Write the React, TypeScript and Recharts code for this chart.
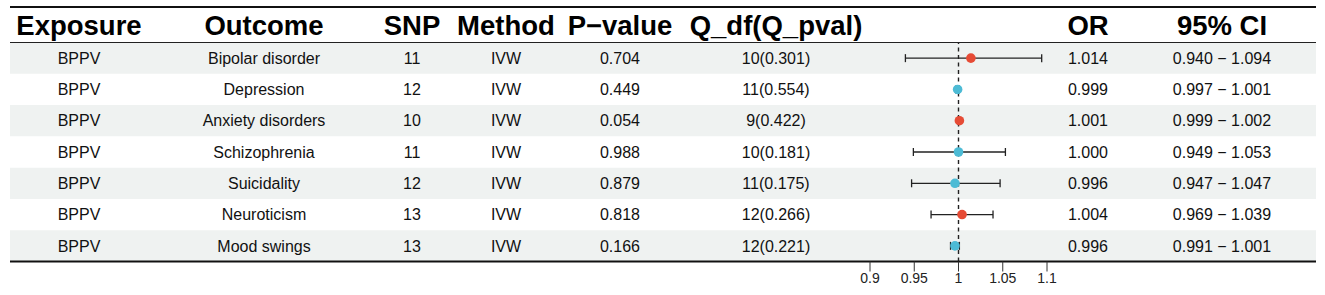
import React from "react";
import {
  ComposedChart,
  Scatter,
  XAxis,
  YAxis,
  ErrorBar,
  ReferenceLine,
  ReferenceArea,
} from "recharts";

const headers = ["Exposure", "Outcome", "SNP", "Method", "P\u2212value", "Q_df(Q_pval)", "OR", "95% CI"];
const exposures = ["BPPV", "BPPV", "BPPV", "BPPV", "BPPV", "BPPV", "BPPV"];
const outcomes = [
  "Bipolar disorder",
  "Depression",
  "Anxiety disorders",
  "Schizophrenia",
  "Suicidality",
  "Neuroticism",
  "Mood swings",
];
const snps = [11, 12, 10, 11, 12, 13, 13];
const methods = ["IVW", "IVW", "IVW", "IVW", "IVW", "IVW", "IVW"];
const pValues = ["0.704", "0.449", "0.054", "0.988", "0.879", "0.818", "0.166"];
const qStats = ["10(0.301)", "11(0.554)", "9(0.422)", "10(0.181)", "11(0.175)", "12(0.266)", "12(0.221)"];
const orValues = [1.014, 0.999, 1.001, 1.0, 0.996, 1.004, 0.996];
const ciLow = [0.94, 0.997, 0.999, 0.949, 0.947, 0.969, 0.991];
const ciHigh = [1.094, 1.001, 1.002, 1.053, 1.047, 1.039, 1.001];
const riskUp = [true, false, true, false, false, true, false];
const xTicks = [0.9, 0.95, 1, 1.05, 1.1];

const RED = "#E64B35";
const BLUE = "#4DBBD5";
const SHADE = "#EFF2F1";
const FONT = "'Liberation Sans', Arial, Helvetica, sans-serif";

// column centre positions (layout)
const colX = [79, 264, 412, 506, 620, 776, 1088, 1222];

const rows = outcomes.map((o, i) => ({
  row: i + 1,
  or: orValues[i],
  ci: [orValues[i] - ciLow[i], ciHigh[i] - orValues[i]],
  up: riskUp[i],
}));

const rowCells = (i: number) => [
  exposures[i],
  outcomes[i],
  String(snps[i]),
  methods[i],
  pValues[i],
  qStats[i],
  orValues[i].toFixed(3),
  `${ciLow[i].toFixed(3)} \u2212 ${ciHigh[i].toFixed(3)}`,
];

const RowTick = (props: any) => {
  const { y, payload } = props;
  const i = payload.value - 1;
  if (i < 0 || i >= outcomes.length) return <g />;
  return (
    <g>
      {rowCells(i).map((t, k) => (
        <text
          key={k}
          x={colX[k]}
          y={y}
          dy="0.36em"
          textAnchor="middle"
          fontFamily={FONT}
          fontSize={16}
          fill="#111"
        >
          {t}
        </text>
      ))}
    </g>
  );
};

const Dot = (props: any) => {
  const { cx, cy, payload } = props;
  return <circle cx={cx} cy={cy} r={4.8} fill={payload.up ? RED : BLUE} />;
};

const NoDot = () => <g />;

export default function App() {
  return (
    <div style={{ position: "absolute", left: 0, top: 0, background: "#fff" }}>
      <ComposedChart
        width={1325}
        height={295}
        layout="vertical"
        data={rows}
        margin={{ top: 42.5, right: 9, bottom: 3.5, left: 9 }}
      >
        <line x1={10} x2={1316} y1={7} y2={7} stroke="#111" strokeWidth={2} />
        {headers.map((h, k) => (
          <text
            key={h}
            x={colX[k]}
            y={34.5}
            textAnchor="middle"
            fontFamily={FONT}
            fontWeight="bold"
            fontSize={27.5}
            fill="#000"
          >
            {h}
          </text>
        ))}
        {rows
          .filter((r) => r.row % 2 === 1)
          .map((r) => (
            <ReferenceArea
              key={r.row}
              y1={r.row - 0.5}
              y2={r.row + 0.5}
              fill={SHADE}
              fillOpacity={1}
              stroke="none"
              ifOverflow="visible"
            />
          ))}
        <XAxis
          type="number"
          dataKey="or"
          domain={[-0.07175, 1.40395]}
          allowDataOverflow
          ticks={xTicks}
          interval={0}
          height={30}
          tickSize={10}
          axisLine={{ stroke: "#111", strokeWidth: 1.8 }}
          tickLine={{ stroke: "#333", strokeWidth: 1 }}
          tick={{ fontSize: 14, fill: "#222", fontFamily: FONT }}
        />
        <YAxis
          type="number"
          dataKey="row"
          domain={[0.5, 7.5]}
          allowDataOverflow
          ticks={[1, 2, 3, 4, 5, 6, 7]}
          interval={0}
          width={1}
          axisLine={false}
          tickLine={false}
          tick={(p: any) => <RowTick {...p} />}
        />
        <ReferenceLine y={0.5} stroke="#222" strokeWidth={1} ifOverflow="visible" />
        <ReferenceLine x={1} stroke="#222" strokeWidth={1.4} strokeDasharray="4 3.5" ifOverflow="visible" />
        <Scatter data={rows} dataKey="or" isAnimationActive={false} shape={<NoDot />}>
          <ErrorBar dataKey="ci" direction="x" width={4} stroke="#222" strokeWidth={1.3} />
        </Scatter>
        <Scatter data={rows} dataKey="or" isAnimationActive={false} shape={<Dot />} />
      </ComposedChart>
    </div>
  );
}
